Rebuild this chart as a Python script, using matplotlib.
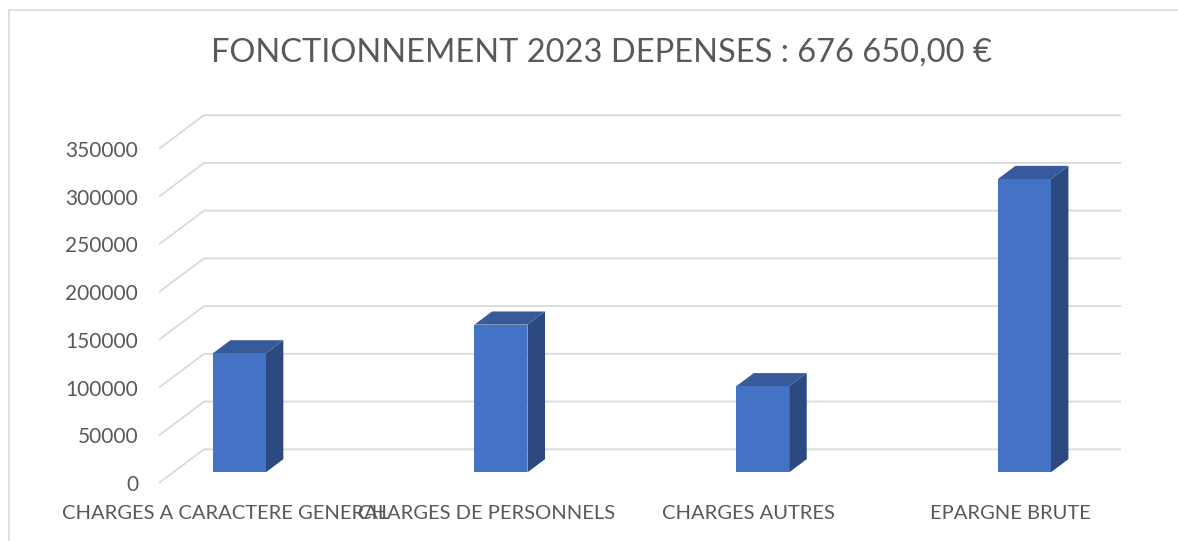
import matplotlib.pyplot as plt
from matplotlib.patches import Polygon, Rectangle
from matplotlib.lines import Line2D

# données
categories = ['CHARGES A CARACTERE GENERAL', 'CHARGES DE PERSONNELS',
              'CHARGES AUTRES', 'EPARGNE BRUTE']
depenses = [124600, 154700, 90150, 307200]
yticks = [0, 50000, 100000, 150000, 200000, 250000, 300000, 350000]
titre = 'FONCTIONNEMENT 2023 DEPENSES : 676 650,00 €'

# couleurs
c_face = '#4472C4'
c_side = '#2C4A80'
c_top = '#365A9A'
c_grid = '#D9D9D9'
c_text = '#595959'

plt.rcParams['font.family'] = ['Lato', 'DejaVu Sans']

fig = plt.figure(figsize=(11.78, 5.41), dpi=100)
ax = fig.add_axes([0.135, 0.1072, 0.8166, 0.680])
ax.set_xlim(-0.2522, 3.4238)
ax.set_ylim(0, 385300)

# profondeur (projection oblique)
dx = 0.172
dy = 35280
x0 = -0.2522
x1 = 3.4238

# grille : diagonale a gauche puis horizontale au fond
for v in yticks:
    ax.plot([x0, x0 + dx, x1], [v, v + dy, v + dy], color=c_grid,
            lw=1.3, zorder=1, clip_on=False, solid_capstyle='butt')

# barres 3D
w = 0.2025
d0 = 0.317
bd = 0.39
for i, val in enumerate(depenses):
    xl = i - w / 2 + d0 * dx
    xr = xl + w
    yb = d0 * dy
    yt = yb + val
    ox, oy = bd * dx, bd * dy
    ax.add_patch(Polygon([(xr, yb), (xr + ox, yb + oy), (xr + ox, yt + oy), (xr, yt)],
                         closed=True, facecolor=c_side, edgecolor='none', zorder=3))
    ax.add_patch(Polygon([(xl, yt), (xr, yt), (xr + ox, yt + oy), (xl + ox, yt + oy)],
                         closed=True, facecolor=c_top, edgecolor='none', zorder=3))
    ax.add_patch(Rectangle((xl, yb), w, val, facecolor=c_face, edgecolor='none', zorder=4))

# axes
for s in ax.spines.values():
    s.set_visible(False)
ax.set_yticks(yticks)
ax.set_yticklabels([str(v) for v in yticks], fontsize=15, color=c_text)
ax.tick_params(axis='y', length=0, pad=15)
ax.set_xticks(range(len(categories)))
ax.set_xticklabels(categories, fontsize=14.5, color=c_text)
ax.tick_params(axis='x', length=0, pad=16)
ax.patch.set_visible(False)

fig.text(0.5106, 0.903, titre, ha='center', va='center', fontsize=23.5, color=c_text)

# cadre du graphique (haut et gauche)
fig.add_artist(Line2D([9 / 1178, 9 / 1178], [0, 1 - 10 / 541], color=c_grid, lw=1.2))
fig.add_artist(Line2D([9 / 1178, 1], [1 - 10 / 541, 1 - 10 / 541], color=c_grid, lw=1.2))

fig.savefig('out.png', dpi=100)
